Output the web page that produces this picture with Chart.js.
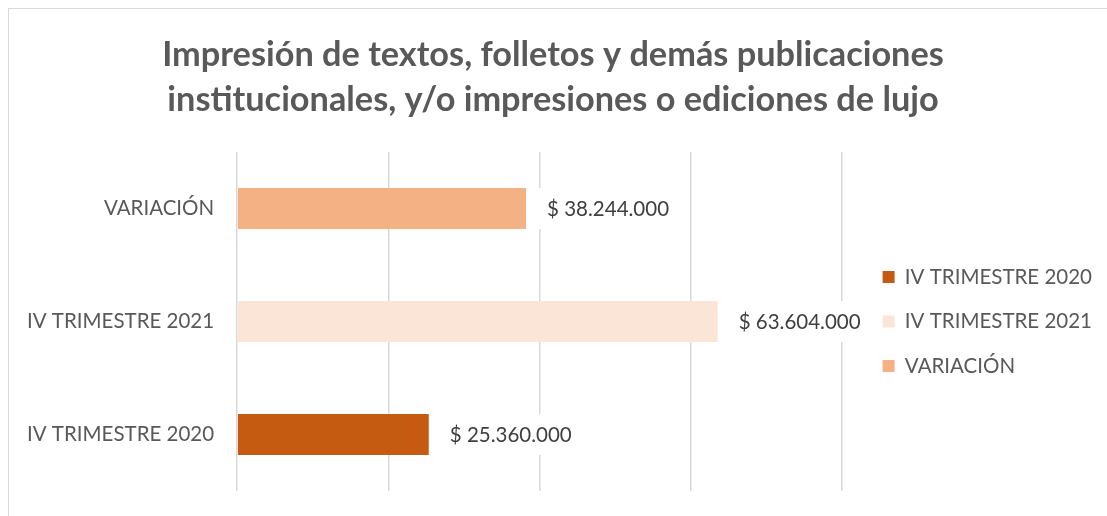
<!DOCTYPE html>
<html>
<head>
<meta charset="utf-8">
<script src="https://cdn.jsdelivr.net/npm/chart.js@4/dist/chart.umd.min.js"></script>
<style>
  body { margin: 0; background: #fff; }
  #wrap { width: 1107px; height: 516px; }
</style>
</head>
<body>
<div id="wrap"><canvas id="chart"></canvas></div>
<script>
// --- DATA ---
const categories = ['VARIACIÓN', 'IV TRIMESTRE 2021', 'IV TRIMESTRE 2020'];
const seriesNames = ['IV TRIMESTRE 2020', 'IV TRIMESTRE 2021', 'VARIACIÓN'];
const values2020 = [null, null, 25360000];
const values2021 = [null, 63604000, null];
const valuesVariacion = [38244000, null, null];
const axisTicks = [0, 20000000, 40000000, 60000000, 80000000];
const titleLines = ['Impresión de textos, folletos y demás publicaciones', 'institucionales, y/o impresiones o ediciones de lujo'];

const colors = ['#C55A11', '#FBE5D6', '#F4B183'];
const FONT = 'Lato';
const TEXT_SIZE = 20.5;

// 25360000 -> "$ 25.360.000"
function formatPesos(v) {
    return '$ ' + String(v).replace(/\B(?=(\d{3})+(?!\d))/g, '.');
}

// light frame round the chart, like the Excel chart border
const framePlugin = {
    id: 'frame',
    beforeDraw(chart) {
        const ctx = chart.ctx;
        ctx.save();
        ctx.strokeStyle = '#d9d9d9';
        ctx.lineWidth = 1;
        ctx.strokeRect(8.5, 8.5, 1300, 700);
        ctx.restore();
    }
};

// value labels at the end of each bar, on a white box
const valueLabels = {
    id: 'valueLabels',
    afterDatasetsDraw(chart) {
        const ctx = chart.ctx;
        ctx.save();
        ctx.font = TEXT_SIZE + 'px ' + FONT;
        ctx.textBaseline = 'middle';
        chart.data.datasets.forEach((ds, i) => {
            const meta = chart.getDatasetMeta(i);
            meta.data.forEach((bar, j) => {
                const v = ds.data[j];
                if (v == null) return;
                const text = formatPesos(v);
                const w = ctx.measureText(text).width;
                const h = bar.height;
                ctx.fillStyle = '#ffffff';
                ctx.fillRect(bar.x + 8, bar.y - h / 2, w + 26, h);
                ctx.fillStyle = '#404040';
                ctx.fillText(text, bar.x + 21, bar.y + 1);
            });
        });
        ctx.restore();
    }
};

const seriesValues = [values2020, values2021, valuesVariacion];

new Chart(document.getElementById('chart'), {
    type: 'bar',
    data: {
        labels: categories,
        datasets: seriesNames.map((name, i) => ({
            label: name,
            data: seriesValues[i],
            backgroundColor: colors[i],
            borderWidth: 0,
            categoryPercentage: 0.363,
            barPercentage: 1
        }))
    },
    options: {
        indexAxis: 'y',
        responsive: true,
        maintainAspectRatio: false,
        animation: false,
        layout: { padding: { left: 4, right: 5, bottom: 25, top: 0 } },
        scales: {
            x: {
                stacked: true,
                min: 0,
                max: 82255000,
                // gridlines only every 20M, the plot runs on a bit past the last one
                afterBuildTicks: scale => { scale.ticks = axisTicks.map(v => ({ value: v })); },
                afterFit: scale => { scale.height = 0; },
                ticks: { display: false },
                grid: { color: '#d9d9d9', lineWidth: 1.5, drawTicks: false },
                border: { display: false }
            },
            y: {
                stacked: true,
                // labels sit mid-band, no need for the extra room above/below
                afterFit: scale => { scale.paddingTop = 0; scale.paddingBottom = 0; },
                ticks: { color: '#595959', font: { family: FONT, size: TEXT_SIZE }, padding: 23 },
                grid: { display: false, drawTicks: false },
                border: { display: false }
            }
        },
        plugins: {
            title: {
                display: true,
                text: titleLines,
                color: '#595959',
                font: { family: FONT, size: 34.3, weight: 'bold', lineHeight: 45 / 34.3 },
                padding: { top: 32, bottom: 30 }
            },
            legend: {
                position: 'right',
                fullSize: false,
                labels: {
                    color: '#595959',
                    font: { family: FONT, size: TEXT_SIZE },
                    boxWidth: 12,
                    boxHeight: 12,
                    padding: 24
                }
            },
            tooltip: { enabled: false }
        }
    },
    plugins: [framePlugin, valueLabels]
});
</script>
</body>
</html>
